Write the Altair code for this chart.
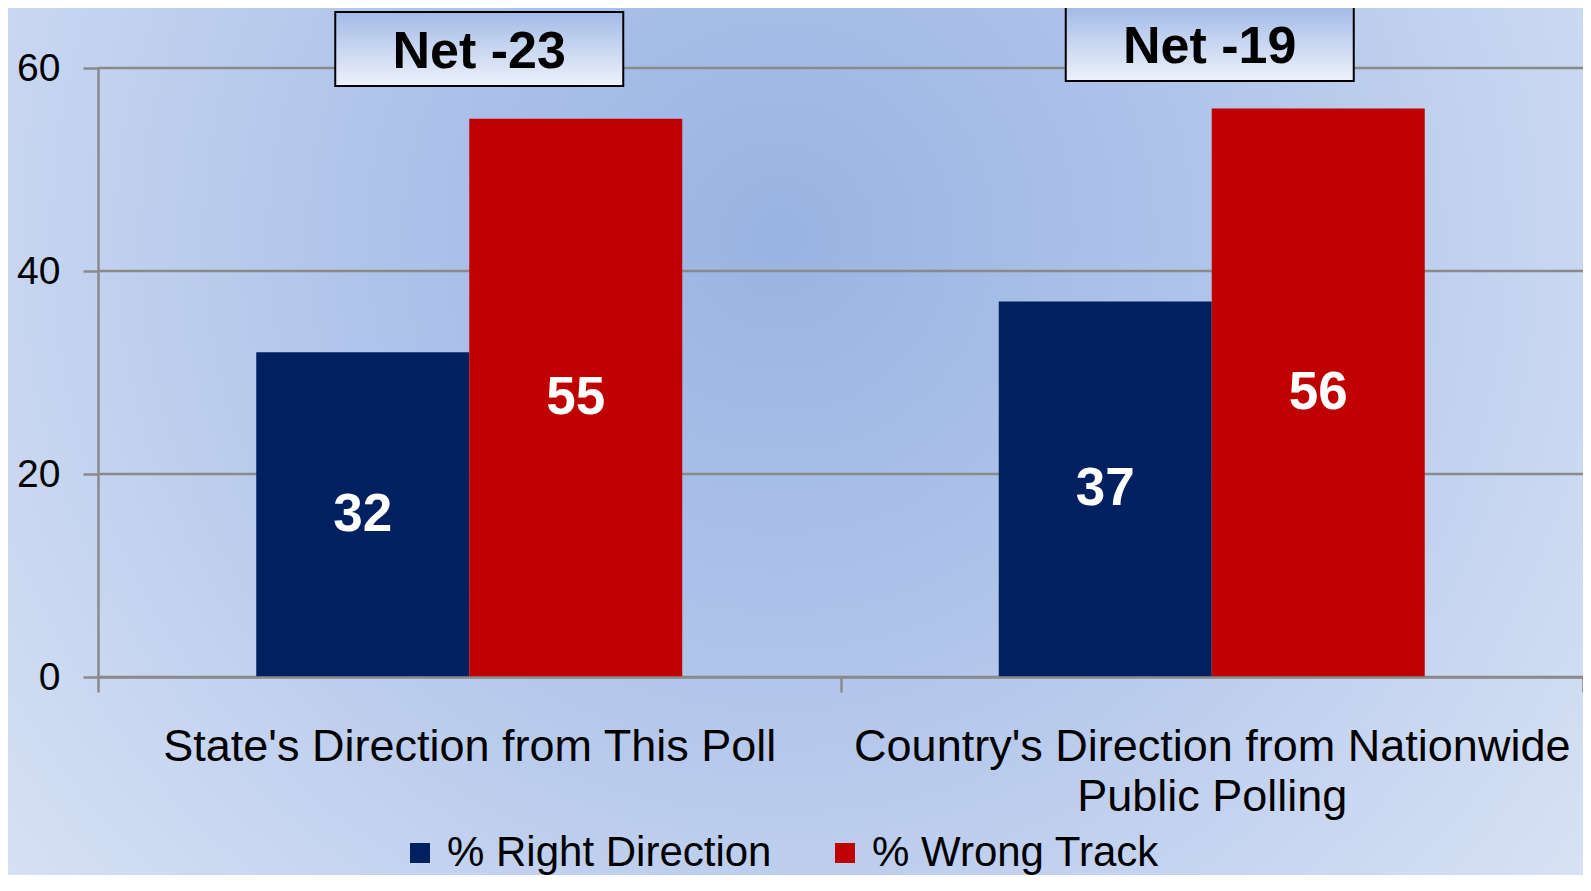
import altair as alt
import pandas as pd

categories = ["State's Direction from This Poll",
              "Country's Direction from Nationwide\nPublic Polling"]
series = ["% Right Direction", "% Wrong Track"]
right_direction = [32, 37]
wrong_track = [55, 56]
net_labels = ["Net -23", "Net -19"]
y_ticks = [0, 20, 40, 60]
colors = ["#002060", "#C00000"]

FONT = "Liberation Sans"
GRAY = "#8a8a8a"

rows = []
for i, c in enumerate(categories):
    rows.append({"category": c, "series": series[0], "value": right_direction[i]})
    rows.append({"category": c, "series": series[1], "value": wrong_track[i]})
bars_df = pd.DataFrame(rows)
bars_df["mid"] = bars_df["value"] / 2

net_df = pd.DataFrame({"category": categories, "net": net_labels})
grid_df = pd.DataFrame({"tick": y_ticks})
bg_df = pd.DataFrame({"k": [0]})

W, H = 1485, 609

yscale = alt.Scale(domain=[0, 60], nice=False)
xscale = alt.Scale(domain=categories, paddingInner=0, paddingOuter=0)

x_enc = alt.X(
    "category:N", sort=categories, scale=xscale,
    axis=alt.Axis(
        title=None, labelAngle=0, tickBand="extent", ticks=True, tickSize=15,
        tickColor=GRAY, tickWidth=2.5, domainColor=GRAY, domainWidth=2.5,
        labelFontSize=45, labelFont=FONT, labelColor="black", labelPadding=32,
        labelLineHeight=50, labelLimit=900, labelExpr="split(datum.label, '\\n')",
        zindex=1,
    ),
)

radial = {
    "gradient": "radial", "x1": 0.49, "y1": 0.37, "r1": 0,
    "x2": 0.49, "y2": 0.37, "r2": 0.72,
    "stops": [
        {"offset": 0, "color": "#99b3e2"},
        {"offset": 0.35, "color": "#aec3ea"},
        {"offset": 1, "color": "#dfe7f6"},
    ],
}
box_fill = {
    "gradient": "linear", "x1": 0, "y1": 0, "x2": 0, "y2": 1,
    "stops": [
        {"offset": 0, "color": "#a3bbe7"},
        {"offset": 1, "color": "#eef2fb"},
    ],
}

bg = alt.Chart(bg_df).mark_rect(fill=radial, clip=False).encode(
    x=alt.value(-90), x2=alt.value(W), y=alt.value(-60), y2=alt.value(H + 198)
)

grid = alt.Chart(grid_df).mark_rule(color=GRAY, strokeWidth=2.5).encode(
    y=alt.Y("tick:Q", scale=yscale,
            axis=alt.Axis(values=y_ticks, grid=False, title=None, tickSize=15,
                          tickColor=GRAY, tickWidth=2.5, domainColor=GRAY,
                          domainWidth=2.5, labelFontSize=39, labelFont=FONT,
                          labelColor="black", labelPadding=23, zindex=1))
)

bars = alt.Chart(bars_df).mark_bar().encode(
    x=x_enc,
    xOffset=alt.XOffset("series:N", sort=series,
                        scale=alt.Scale(domain=series, paddingInner=0, paddingOuter=0.743)),
    y=alt.Y("value:Q", scale=yscale),
    color=alt.Color(
        "series:N", sort=series, scale=alt.Scale(domain=series, range=colors),
        legend=alt.Legend(
            orient="none", legendX=301, legendY=764, direction="horizontal",
            title=None, symbolType="square", symbolSize=400, symbolStrokeWidth=0,
            labelFontSize=42, labelFont=FONT, labelColor="black", labelOffset=6,
            columnPadding=52, padding=0, labelLimit=1000, zindex=1,
        ),
    ),
)

bar_text = alt.Chart(bars_df).mark_text(
    font=FONT, fontSize=53, fontWeight="bold", color="white", baseline="middle"
).encode(
    x=alt.X("category:N", sort=categories, scale=xscale),
    xOffset=alt.XOffset("series:N", sort=series),
    y=alt.Y("mid:Q", scale=yscale),
    text=alt.Text("value:Q"),
)

box1 = alt.Chart(net_df).transform_filter(
    alt.datum.net == net_labels[0]
).mark_bar(size=288, xOffset=10, fill=box_fill, stroke="black", strokeWidth=2, clip=False).encode(
    x=alt.X("category:N", sort=categories, scale=xscale),
    y=alt.value(-56), y2=alt.value(18),
)
box2 = alt.Chart(net_df).transform_filter(
    alt.datum.net == net_labels[1]
).mark_bar(size=288, xOffset=-2, fill=box_fill, stroke="black", strokeWidth=2, clip=False).encode(
    x=alt.X("category:N", sort=categories, scale=xscale),
    y=alt.value(-61), y2=alt.value(13),
)
txt1 = alt.Chart(net_df).transform_filter(
    alt.datum.net == net_labels[0]
).mark_text(font=FONT, fontSize=52, fontWeight="bold", color="black",
            baseline="middle", xOffset=10).encode(
    x=alt.X("category:N", sort=categories, scale=xscale),
    y=alt.value(-16), text="net:N",
)
txt2 = alt.Chart(net_df).transform_filter(
    alt.datum.net == net_labels[1]
).mark_text(font=FONT, fontSize=52, fontWeight="bold", color="black",
            baseline="middle", xOffset=-2).encode(
    x=alt.X("category:N", sort=categories, scale=xscale),
    y=alt.value(-21), text="net:N",
)

chart = alt.layer(bg, grid, bars, bar_text, box1, box2, txt1, txt2).properties(
    width=W, height=H,
    autosize=alt.AutoSizeParams(type="none"),
    padding={"left": 90, "top": 60, "right": 0, "bottom": 198},
    background="#c6d4ee",
).configure_view(stroke=None)

chart.save("out.html", embed_options={"renderer": "svg", "actions": False})
